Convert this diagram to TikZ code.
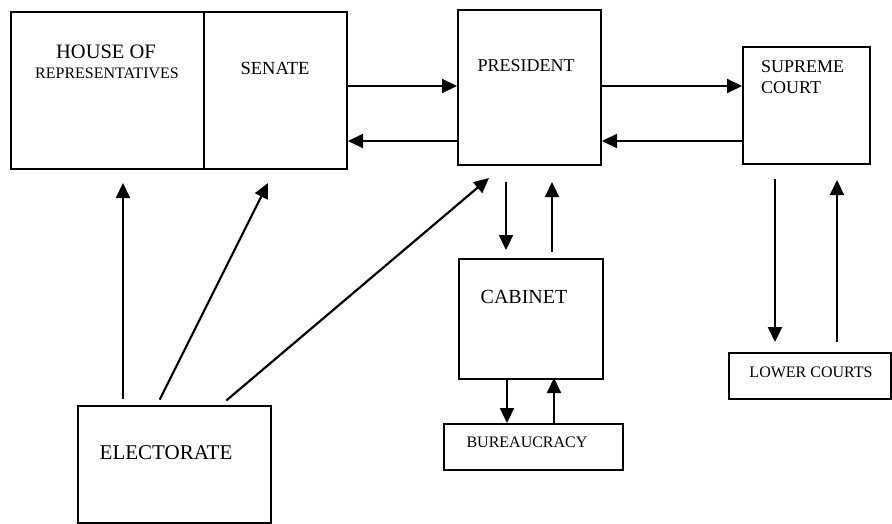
\documentclass[tikz,border=0pt]{standalone}
\usepackage{fontspec}
\setmainfont{Liberation Serif}
\usetikzlibrary{arrows.meta}
\begin{document}
\begin{tikzpicture}[x=1pt,y=-1pt,
  box/.style={draw=black, line width=2pt, inner sep=0pt, anchor=north west, fill=white},
  lbl/.style={inner sep=0pt, text=black},
  arr/.style={draw=black, line width=2.2pt, -{Triangle[length=15pt,width=14pt]}}]
\useasboundingbox (0,0) rectangle (892,523);
% boxes
\node[box, minimum width=193pt, minimum height=157pt] (house) at (10,11) {};
\node[box, minimum width=143pt, minimum height=157pt] (senate) at (203,11) {};
\node[box, minimum width=143pt, minimum height=155pt] (pres) at (457,9) {};
\node[box, minimum width=127pt, minimum height=117pt] (sc) at (742,46) {};
\node[box, minimum width=144pt, minimum height=120pt] (cab) at (458,258) {};
\node[box, minimum width=179pt, minimum height=46pt] (bur) at (443,423) {};
\node[box, minimum width=162pt, minimum height=46pt] (lower) at (728,352) {};
\node[box, minimum width=193pt, minimum height=117pt] (elec) at (77,405) {};
% labels
\node[lbl, font=\fontsize{20.5}{20.5}\selectfont] (thouse) at (106,52) {HOUSE OF};
\node[lbl, font=\fontsize{16}{16}\selectfont] (trep) at (107,73) {REPRESENTATIVES};
\node[lbl, font=\fontsize{18.5}{18.5}\selectfont] (tsen) at (275,68) {SENATE};
\node[lbl, font=\fontsize{18}{18}\selectfont] (tpres) at (526,66) {PRESIDENT};
\node[lbl, font=\fontsize{18}{18}\selectfont, anchor=west] (tsup) at (761,67) {SUPREME};
\node[lbl, font=\fontsize{18}{18}\selectfont, anchor=west] (tcourt) at (761,88) {COURT};
\node[lbl, font=\fontsize{20}{20}\selectfont] (tcab) at (524,297) {CABINET};
\node[lbl, font=\fontsize{16}{16}\selectfont] (tbur) at (527,442) {BUREAUCRACY};
\node[lbl, font=\fontsize{16}{16}\selectfont] (tlow) at (811,372) {LOWER COURTS};
\node[lbl, font=\fontsize{21}{21}\selectfont] (telec) at (166,453) {ELECTORATE};
% horizontal arrows
\draw[arr] (senate.east |- 0,86) -- (pres.west |- 0,86);
\draw[arr] (pres.west |- 0,141) -- (senate.east |- 0,141);
\draw[arr] (pres.east |- 0,86) -- (sc.west |- 0,86);
\draw[arr] (sc.west |- 0,141) -- (pres.east |- 0,141);
% president - cabinet
\draw[arr, shorten <=16pt, shorten >=8pt] (pres.south -| 506,0) -- (cab.north -| 506,0);
\draw[arr, shorten <=6pt, shorten >=16pt] (cab.north -| 552,0) -- (pres.south -| 552,0);
% cabinet - bureaucracy
\draw[arr, shorten <=-2pt] (cab.south -| 507,0) -- (bur.north -| 507,0);
\draw[arr, shorten >=-2pt] (bur.north -| 554,0) -- (cab.south -| 554,0);
% supreme court - lower courts
\draw[arr, shorten <=14pt, shorten >=10pt] (sc.south -| 775,0) -- (lower.north -| 775,0);
\draw[arr, shorten <=10pt, shorten >=15pt] (lower.north -| 837,0) -- (sc.south -| 837,0);
% electorate
\coordinate (e1) at (123,183);
\coordinate (e2) at (268,183);
\coordinate (e3) at (489,178);
\draw[arr, shorten <=6pt] (elec.north -| 123,0) -- (e1);
\draw[arr, shorten <=6pt] (elec.north -| 157,0) -- (e2);
\draw[arr, shorten <=7pt] (elec.north -| 221,0) -- (e3);
\end{tikzpicture}
\end{document}
